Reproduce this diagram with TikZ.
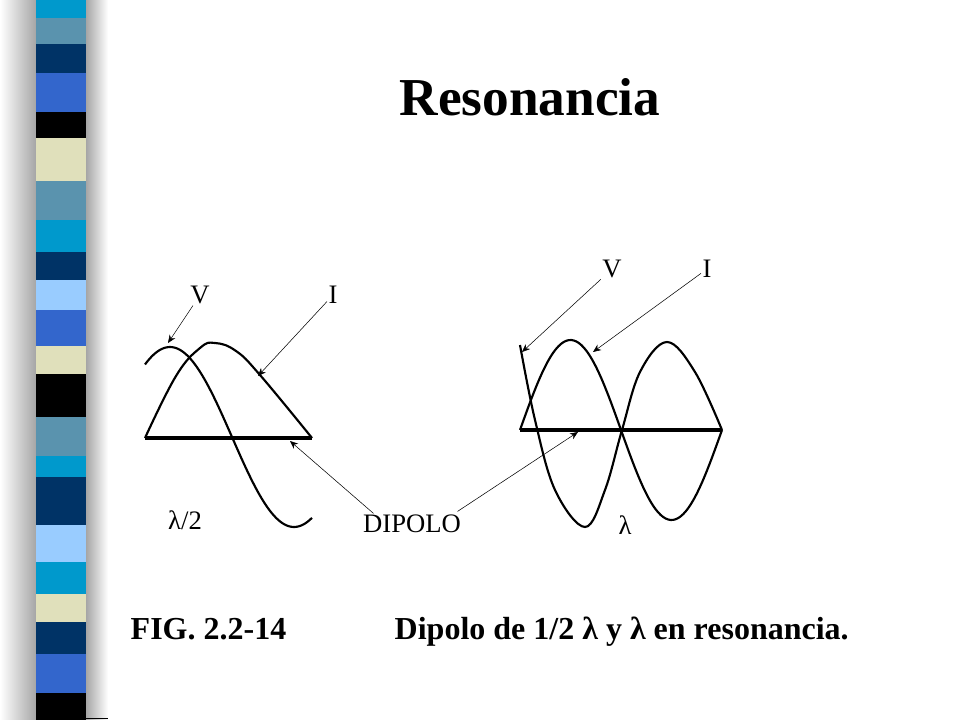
\documentclass[tikz,border=0pt]{standalone}
\usepackage{fontspec}
\setmainfont{Liberation Serif}
\usetikzlibrary{arrows.meta}
\begin{document}
\begin{tikzpicture}[x=0.75pt,y=-0.75pt,
  curve/.style={line width=1.6pt},
  dip/.style={line width=3pt},
  ptr/.style={-{Stealth[length=6pt,width=5pt]},thin},
  lbl/.style={font=\fontsize{20}{24}\selectfont,inner sep=1pt}]
\useasboundingbox (0,0) rectangle (960,720);
\fill[white] (0,0) rectangle (960,720);
% shadow
\shade[left color=white,right color=gray!70] (0,0) rectangle (36,720);
\shade[left color=gray!70,right color=white] (86,0) rectangle (108,720);
\draw[black] (85,718) -- (108,718);
% stripe
\foreach \a/\b/\c in {0/18/0099CC,18/44/5A93AE,44/73/003366,73/112/3366CC,112/138/000000,138/181/E0E0BB,181/220/5A93AE,220/252/0099CC,252/280/003366,280/310/99CCFF,310/346/3366CC,346/374/E0E0BB,374/417/000000,417/456/5A93AE,456/477/0099CC,477/525/003366,525/562/99CCFF,562/594/0099CC,594/622/E0E0BB,622/654/003366,654/693/3366CC,693/720/000000}{
  \definecolor{bc}{HTML}{\c}
  \fill[bc] (36,\a) rectangle (86,\b);
}
\node[font=\bfseries\fontsize{40}{44}\selectfont] (title) at (530,97) {Resonancia};
% left diagram
\draw[curve] plot[smooth,tension=0.7] coordinates {(145,438) (176,376) (200,348) (215,343) (236,351) (260,375) (312,438)};
\draw[curve] plot[domain=145:312,samples=80,smooth] (\x,{437-90*cos(90/62*(\x-170))});
\draw[dip] (145,438) -- (312,438);
\node[lbl] (v1) at (200,295) {V};
\node[lbl] (i1) at (333,295) {I};
\node[lbl] (l1) at (185,520) {λ/2};
\coordinate (v1t) at (168,343);
\coordinate (i1t) at (258,376);
\coordinate (d1t) at (290,441);
\coordinate (d2t) at (578,432);
\draw[ptr] (v1) -- (v1t);
\draw[ptr] (i1) -- (i1t);
% right diagram
\draw[curve] plot[domain=520:722,samples=80,smooth] (\x,{430-90*sin(360/202*(\x-520))});
\draw[curve] plot[smooth,tension=0.6] coordinates {(520,345) (535,420) (555,490) (585,527) (605,490) (622,430) (640,372) (667,342) (695,372) (722,430)};
\draw[dip] (520,430) -- (722,430);
\node[lbl] (v2) at (612,269) {V};
\node[lbl] (i2) at (707,269) {I};
\node[lbl] (l2) at (625,525) {λ};
\coordinate (v2t) at (522,352);
\coordinate (i2t) at (593,352);
\draw[ptr] (v2) -- (v2t);
\draw[ptr] (i2) -- (i2t);
\node[lbl] (dip) at (412,524) {DIPOLO};
\draw[ptr] (dip.north west) ++(12,0) -- (d1t);
\draw[ptr] (dip.north east) ++(-5,-2) -- (d2t);
\node[font=\bfseries\fontsize{24}{28}\selectfont,anchor=base west] (fig) at (126,639) {FIG. 2.2-14};
\node[font=\bfseries\fontsize{24}{28}\selectfont,anchor=base west] (cap) at (390,639) {Dipolo de 1/2 λ y λ en resonancia.};
\end{tikzpicture}
\end{document}
